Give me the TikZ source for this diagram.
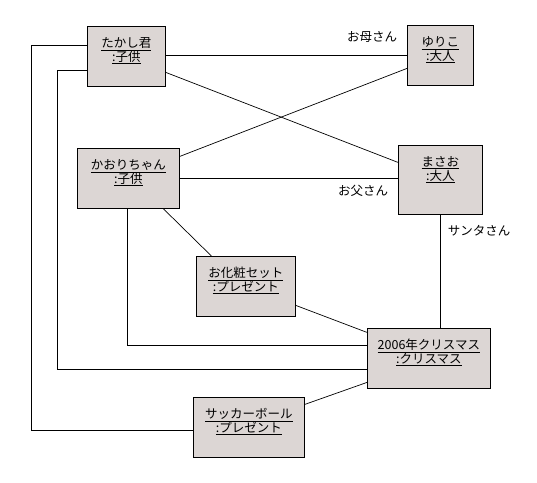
\documentclass[tikz,border=0pt]{standalone}
\usepackage{fontspec}
\newfontfamily\jpfont{Noto Sans CJK JP}
\usetikzlibrary{calc}
\definecolor{objfill}{RGB}{220,214,212}
\newcommand{\objlabel}[2]{\underline{#1}\\\underline{:#2}}

\begin{document}
\begin{tikzpicture}[x=1pt, y=-1pt, font=\jpfont\fontsize{12.5}{13.5}\selectfont]
                \tikzstyle{obj} = [draw, fill=objfill, line width=0.8pt, anchor=north west, align=center, inner sep=0pt, text depth=14pt]
                \tikzstyle{link} = [line width=0.7pt]
                \useasboundingbox (0, 0) rectangle (537, 482);
                \node[obj, minimum width=78, minimum height=60] (takashi) at (87, 26) {\objlabel{たかし君}{子供}};
                \node[obj, minimum width=66, minimum height=60] (yuriko) at (407, 25) {\objlabel{ゆりこ}{大人}};
                \node[obj, minimum width=102, minimum height=60] (kaori) at (77, 148) {\objlabel{かおりちゃん}{子供}};
                \node[obj, minimum width=84, minimum height=69, text depth=23pt] (masao) at (398, 145) {\objlabel{まさお}{大人}};
                \node[obj, minimum width=99, minimum height=60] (cosme) at (196, 256) {\objlabel{お化粧セット}{プレゼント}};
                \node[obj, minimum width=123, minimum height=60] (xmas) at (367, 328) {\objlabel{2006年クリスマス}{クリスマス}};
                \node[obj, minimum width=111, minimum height=60] (soccer) at (193, 397) {\objlabel{サッカーボール}{プレゼント}};
                \draw[link] ([yshift=1pt]takashi.east) -- (yuriko.west);
                \draw[link] ([yshift=-16pt]takashi.east) -- ([yshift=17.5pt]masao.west);
                \draw[link] ([yshift=22pt]kaori.east) -- ([yshift=-13pt]yuriko.west);
                \draw[link] (kaori.east) -- (kaori.east -| masao.west);
                \draw[link] (masao.south) -- (masao.south |- xmas.north);
                \draw[link] ([xshift=35pt]kaori.south) -- ([xshift=-34.5pt]cosme.north);
                \draw[link] ([yshift=-19pt]cosme.east) -- ([yshift=26pt]xmas.west);
                \draw[link] ([xshift=-1pt]kaori.south) |- ([yshift=13pt]xmas.west);
                \draw[link] ([yshift=-14pt]takashi.west) -- ++(-30, 0) |- ([yshift=-11pt]xmas.west);
                \draw[link] ([yshift=11pt]takashi.west) -- ++(-56, 0) |- ([yshift=-3pt]soccer.west);
                \draw[link] ([yshift=-24pt]xmas.west) -- ([yshift=23pt]soccer.east);
                \node (mother) at (372, 37) {お母さん};
                \node (father) at (363, 191) {お父さん};
                \node (santa) at (479, 231) {サンタさん};
            \end{tikzpicture}
\end{document}
